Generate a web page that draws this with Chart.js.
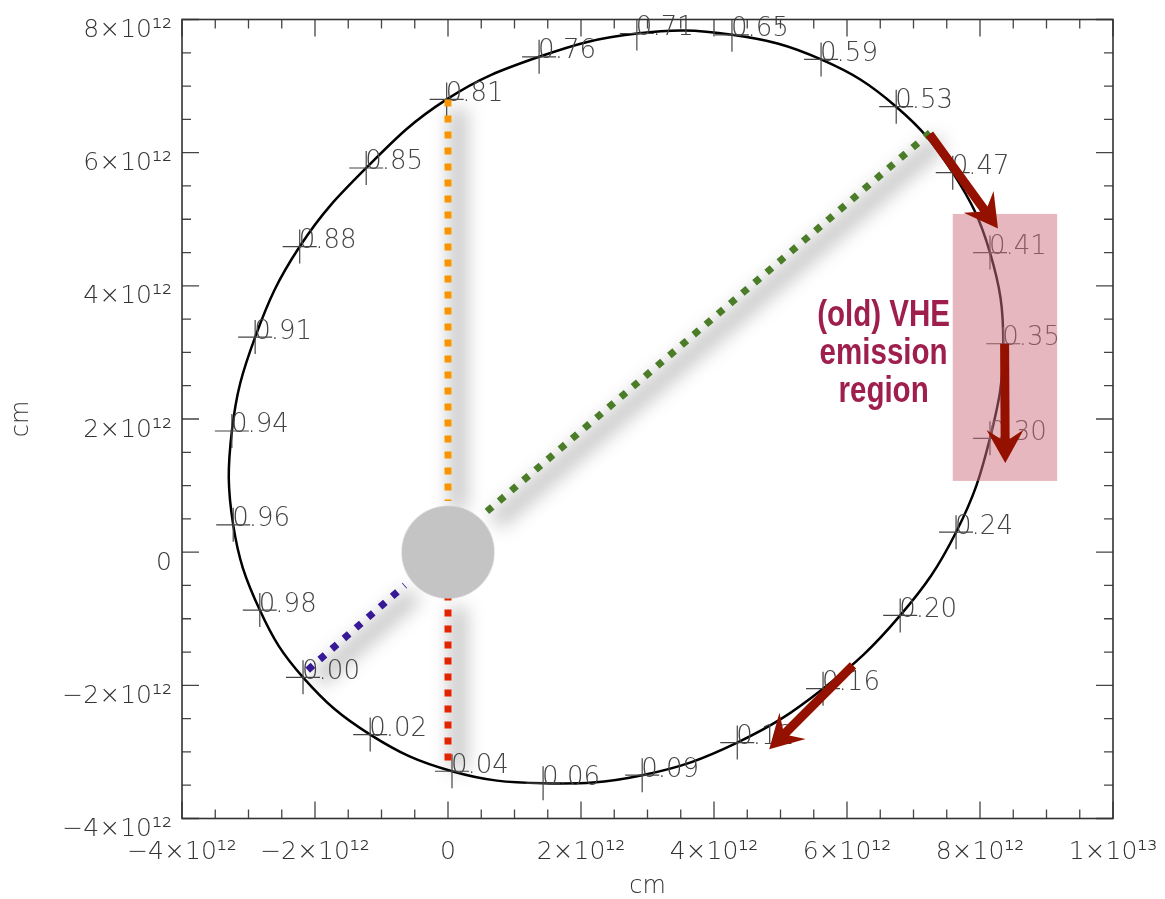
<!DOCTYPE html>
<html>
<head>
<meta charset="utf-8">
<script src="https://cdn.jsdelivr.net/npm/chart.js@4.4.1/dist/chart.umd.min.js"></script>
<style>
  html, body { margin: 0; padding: 0; background: #fff; }
  canvas { display: block; }
</style>
</head>
<body>
<canvas id="chart" width="1165" height="899"></canvas>
<script>
// all coordinates in units of 1e12 cm

// orbital phase markers
const phaseLabels = ['0.00', '0.02', '0.04', '0.06', '0.09', '0.12', '0.16', '0.20', '0.24', '0.30', '0.35', '0.41', '0.47',
  '0.53', '0.59', '0.65', '0.71', '0.76', '0.81', '0.85', '0.88', '0.91', '0.94', '0.96', '0.98'];
const phaseX = [-2.18, -1.17, 0.06, 1.43, 2.92, 4.35, 5.64, 6.80, 7.64, 8.15, 8.35, 8.15, 7.59,
  6.74, 5.61, 4.27, 2.84, 1.37, -0.02, -1.23, -2.23, -2.90, -3.25, -3.23, -2.83];
const phaseY = [-1.88, -2.74, -3.29, -3.47, -3.35, -2.86, -2.05, -0.95, 0.30, 1.71, 3.13, 4.50, 5.70,
  6.69, 7.40, 7.77, 7.79, 7.44, 6.80, 5.77, 4.59, 3.23, 1.82, 0.41, -0.87];

// dotted lines from the star to the orbit
const orangeX = [0, 0];
const orangeY = [6.80, 0.77];
const redX = [0, 0];
const redY = [-3.13, -0.69];
const purpleX = [-2.11, -0.65];
const purpleY = [-1.77, -0.50];
const greenX = [7.25, 0.56];
const greenY = [6.30, 0.59];

// (old) VHE emission region box
const regionX = [7.59, 9.16];
const regionY = [1.07, 5.08];
const regionText = ['(old) VHE', 'emission', 'region'];

// arrows along the orbit
const arrowX0 = [7.24, 8.37, 6.09];
const arrowY0 = [6.28, 3.13, -1.70];
const arrowX1 = [8.27, 8.38, 4.83];
const arrowY1 = [4.86, 1.34, -2.96];

// axis ticks
const xTickValues = [-4, -2, 0, 2, 4, 6, 8, 10];
const xTickLabels = ['\u22124\u00d710\u00b9\u00b2', '\u22122\u00d710\u00b9\u00b2', '0', '2\u00d710\u00b9\u00b2', '4\u00d710\u00b9\u00b2',
  '6\u00d710\u00b9\u00b2', '8\u00d710\u00b9\u00b2', '1\u00d710\u00b9\u00b3'];
const yTickValues = [-4, -2, 0, 2, 4, 6, 8];
const yTickLabels = ['\u22124\u00d710\u00b9\u00b2', '\u22122\u00d710\u00b9\u00b2', '0', '2\u00d710\u00b9\u00b2', '4\u00d710\u00b9\u00b2',
  '6\u00d710\u00b9\u00b2', '8\u00d710\u00b9\u00b2'];

const pts = (xs, ys) => xs.map((x, i) => ({ x: x, y: ys[i] }));

const labelFor = (vals, labels) => (v) => {
  const i = vals.findIndex(t => Math.abs(t - v) < 1e-6);
  return i >= 0 ? labels[i] : '';
};

const lightFont = { family: 'DejaVu Sans', size: 25, weight: 200 };
const textColor = '#333';

// check for a condensed bold font, otherwise squeeze by hand
function hasFont(name) {
  const c = document.createElement('canvas').getContext('2d');
  c.font = 'bold 40px monospace';
  const w0 = c.measureText('(old) VHE emission').width;
  c.font = 'bold 40px "' + name + '", monospace';
  return Math.abs(c.measureText('(old) VHE emission').width - w0) > 0.5;
}
const narrowOk = hasFont('Liberation Sans Narrow');

const dottedLines = [
  [orangeX, orangeY], [redX, redY], [purpleX, purpleY], [greenX, greenY]
];

function drawArrow(ctx, x0, y0, x1, y1) {
  const ang = Math.atan2(y1 - y0, x1 - x0);
  const len = Math.hypot(x1 - x0, y1 - y0);
  const headLen = 33, headW = 18.5, shaftW = 4.5, notch = 9;
  ctx.save();
  ctx.translate(x0, y0);
  ctx.rotate(ang);
  ctx.beginPath();
  ctx.moveTo(0, -shaftW);
  ctx.lineTo(len - headLen + notch, -shaftW);
  ctx.lineTo(len - headLen, -headW);
  ctx.lineTo(len, 0);
  ctx.lineTo(len - headLen, headW);
  ctx.lineTo(len - headLen + notch, shaftW);
  ctx.lineTo(0, shaftW);
  ctx.closePath();
  ctx.fill();
  ctx.restore();
}

// close the orbit spline the way the radar chart does
const loopPlugin = {
  id: 'orbitLoop',
  beforeDatasetDraw(chart, args) {
    if (args.index !== 0) return;
    const line = args.meta.dataset;
    line._loop = true;
    line._fullLoop = true;
    line.points = line.points;
    if (typeof line.updateControlPoints === 'function') {
      line.updateControlPoints(chart.chartArea, 'x');
    }
  }
};

const decorPlugin = {
  id: 'decor',
  beforeDatasetsDraw(chart) {
    const { ctx, chartArea: a, scales: { x, y } } = chart;
    // soft shadows under the dotted lines
    ctx.save();
    ctx.beginPath();
    ctx.rect(a.left, a.top, a.right - a.left, a.bottom - a.top);
    ctx.clip();
    ctx.filter = 'blur(9px)';
    ctx.strokeStyle = 'rgba(0,0,0,0.22)';
    ctx.lineWidth = 18;
    ctx.lineCap = 'butt';
    dottedLines.forEach(([xs, ys]) => {
      ctx.beginPath();
      ctx.moveTo(x.getPixelForValue(xs[0]) + 10, y.getPixelForValue(ys[0]) + 9);
      ctx.lineTo(x.getPixelForValue(xs[1]) + 10, y.getPixelForValue(ys[1]) + 9);
      ctx.stroke();
    });
    ctx.restore();
  },
  afterDatasetsDraw(chart) {
    const { ctx, scales: { x, y } } = chart;
    ctx.save();

    // phase labels
    ctx.font = '200 26px "DejaVu Sans"';
    ctx.fillStyle = '#444';
    ctx.textAlign = 'left';
    ctx.textBaseline = 'alphabetic';
    phaseLabels.forEach((t, i) => {
      ctx.fillText(t, x.getPixelForValue(phaseX[i]) - 1, y.getPixelForValue(phaseY[i]) + 1.5);
    });

    // emission region
    const rx0 = x.getPixelForValue(regionX[0]), rx1 = x.getPixelForValue(regionX[1]);
    const ry0 = y.getPixelForValue(regionY[1]), ry1 = y.getPixelForValue(regionY[0]);
    ctx.fillStyle = 'rgba(205,111,125,0.5)';
    ctx.fillRect(rx0, ry0, rx1 - rx0, ry1 - ry0);

    // arrows
    ctx.fillStyle = 'rgb(148,17,0)';
    arrowX0.forEach((v, i) => {
      drawArrow(ctx, x.getPixelForValue(v), y.getPixelForValue(arrowY0[i]),
        x.getPixelForValue(arrowX1[i]), y.getPixelForValue(arrowY1[i]));
    });

    // region label
    ctx.fillStyle = 'rgb(158,30,78)';
    ctx.textAlign = 'center';
    ctx.font = narrowOk ? 'bold 36px "Liberation Sans Narrow"' : 'bold 36px "Liberation Sans"';
    const cx = x.getPixelForValue(6.55);
    const by = y.getPixelForValue(3.40);
    regionText.forEach((t, i) => {
      ctx.save();
      ctx.translate(cx, by + i * 38);
      if (!narrowOk) ctx.scale(0.82, 1);
      ctx.fillText(t, 0, 0);
      ctx.restore();
    });
    ctx.restore();
  },
  afterDraw(chart) {
    const { ctx, chartArea: a, scales: { x, y } } = chart;
    ctx.save();
    ctx.strokeStyle = '#444';
    ctx.lineWidth = 1.3;
    ctx.beginPath();
    x.ticks.forEach(t => {
      const px = x.getPixelForValue(t.value);
      const len = xTickValues.some(v => Math.abs(v - t.value) < 1e-6) ? 17 : 9;
      ctx.moveTo(px, a.bottom); ctx.lineTo(px, a.bottom - len);
      ctx.moveTo(px, a.top); ctx.lineTo(px, a.top + len);
    });
    y.ticks.forEach(t => {
      const py = y.getPixelForValue(t.value);
      const len = yTickValues.some(v => Math.abs(v - t.value) < 1e-6) ? 17 : 9;
      ctx.moveTo(a.left, py); ctx.lineTo(a.left + len, py);
      ctx.moveTo(a.right, py); ctx.lineTo(a.right - len, py);
    });
    ctx.stroke();
    ctx.strokeStyle = '#333';
    ctx.lineWidth = 1.6;
    ctx.strokeRect(a.left, a.top, a.right - a.left, a.bottom - a.top);
    ctx.restore();
  }
};

const dotted = (xs, ys, color) => ({
  data: pts(xs, ys),
  showLine: true,
  borderColor: color,
  borderWidth: 7,
  borderDash: [7, 9],
  borderCapStyle: 'butt',
  pointRadius: 0,
  order: 3
});

new Chart(document.getElementById('chart').getContext('2d'), {
  type: 'scatter',
  data: {
    datasets: [
      {
        data: pts(phaseX, phaseY),
        showLine: true,
        borderColor: '#000',
        borderWidth: 2.5,
        tension: 0.4,
        pointRadius: 0,
        order: 6
      },
      {
        data: pts(phaseX, phaseY),
        pointStyle: 'cross',
        pointRadius: 17,
        pointBorderWidth: 1.2,
        pointBorderColor: '#444',
        order: 5
      },
      dotted(orangeX, orangeY, 'rgb(247,150,0)'),
      dotted(redX, redY, 'rgb(228,35,0)'),
      dotted(purpleX, purpleY, 'rgb(55,25,150)'),
      dotted(greenX, greenY, 'rgb(75,125,40)'),
      {
        data: [{ x: 0, y: 0 }],
        pointRadius: 46,
        backgroundColor: '#c4c4c4',
        borderColor: 'rgba(196,196,196,0.5)',
        borderWidth: 1.5,
        order: 1
      }
    ]
  },
  options: {
    responsive: false,
    animation: false,
    layout: { autoPadding: false, padding: { left: 0, right: 52, top: 19.5, bottom: 0 } },
    plugins: { legend: { display: false }, tooltip: { enabled: false } },
    scales: {
      x: {
        type: 'linear',
        min: -4, max: 10,
        grid: { display: false, drawTicks: false },
        border: { display: false },
        ticks: {
          stepSize: 0.5, autoSkip: false, maxRotation: 0, padding: 19,
          font: lightFont, color: textColor,
          callback: labelFor(xTickValues, xTickLabels)
        },
        title: {
          display: true, text: 'cm', color: textColor,
          font: { family: 'DejaVu Sans', size: 24, weight: 200, lineHeight: 1 },
          padding: { top: 0, bottom: 0 }
        },
        afterFit: s => { s.height = 899 - 818.5; s.paddingLeft = 0; s.paddingRight = 0; }
      },
      y: {
        type: 'linear',
        min: -4, max: 8,
        grid: { display: false, drawTicks: false },
        border: { display: false },
        ticks: {
          stepSize: 0.5, autoSkip: false, padding: 10, labelOffset: 11,
          font: lightFont, color: textColor,
          callback: labelFor(yTickValues, yTickLabels)
        },
        title: {
          display: true, text: 'cm', color: textColor,
          font: { family: 'DejaVu Sans', size: 24, weight: 200, lineHeight: 1 },
          padding: { top: 10, bottom: 10 }
        },
        afterFit: s => { s.width = 182; s.paddingTop = 0; s.paddingBottom = 0; }
      }
    }
  },
  plugins: [loopPlugin, decorPlugin]
});
</script>
</body>
</html>
